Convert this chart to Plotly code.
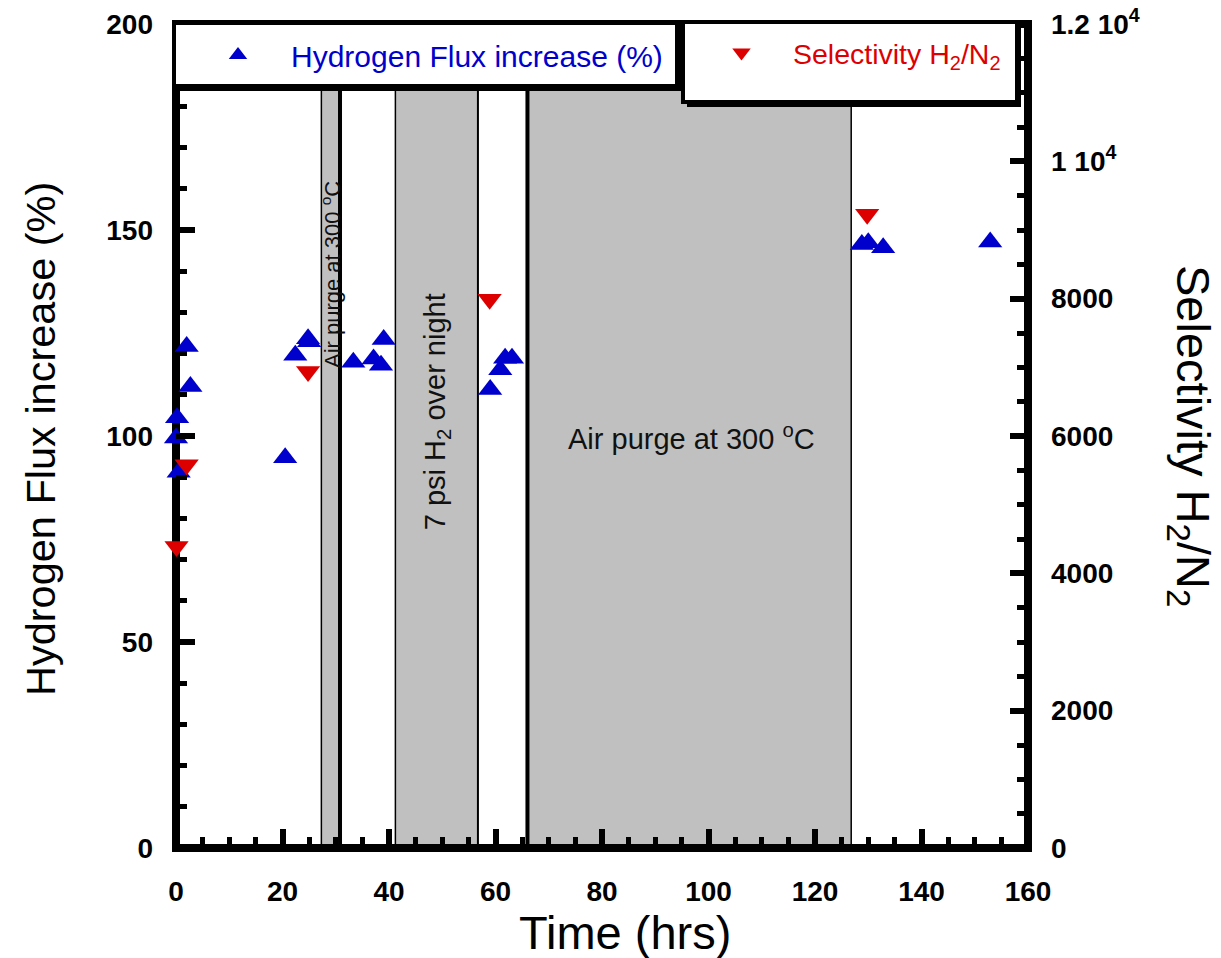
import plotly.graph_objects as go

# Hydrogen flux increase (%) over time (hrs)
flux_time = [0.5, 0.0, 0.2, 2.7, 2.0, 20.5, 22.4, 24.8, 25.0, 33.3, 37.1, 38.5, 39.0,
             59.0, 60.9, 61.8, 63.1, 128.8, 130.0, 132.8, 152.9]
flux_pct = [91.2, 99.5, 104.4, 112.0, 121.7, 94.7, 119.6, 123.6, 122.9, 117.9, 118.7, 117.2, 123.4,
            111.3, 116.1, 118.9, 118.9, 146.5, 146.9, 145.7, 147.1]

# H2/N2 selectivity over time (hrs)
sel_time = [0.1, 2.0, 24.8, 58.9, 129.8]
sel_ratio = [4390, 5580, 6940, 7990, 9230]

# treatment periods (hrs)
band_start = [27.3, 41.2, 66.0]
band_end = [30.8, 56.7, 126.8]

# treatment labels: text, x (hrs), y (%)
band_labels = ["Air purge at 300 <sup>o</sup>C", "7 psi H<sub>2</sub> over night", "Air purge at 300 <sup>o</sup>C"]
label_x = [29.1, 49.0, 96.9]
label_y = [139.3, 106.0, 99.8]

x_ticks = [0, 20, 40, 60, 80, 100, 120, 140, 160]
y_ticks = [0, 50, 100, 150, 200]
y2_ticks = [0, 2000, 4000, 6000, 8000, 10000, 12000]
y2_ticktext = ["0", "2000", "4000", "6000", "8000", "1 10<sup>4</sup>", "1.2 10<sup>4</sup>"]

BLUE = "#0000cc"
RED = "#dd0000"
GRAY = "#c0c0c0"
FONT = "Liberation Sans, Arial, sans-serif"

# plot area in pixels
L, R, T, B = 176, 1028, 24, 848
W, H = R - L, B - T


def px(xp):
    return (xp - L) / W


def py(yp):
    return (B - yp) / H


fig = go.Figure()

fig.add_trace(go.Scatter(
    x=flux_time, y=flux_pct, mode="markers", name="Hydrogen Flux increase (%)",
    marker=dict(symbol="triangle-up", size=21, color=BLUE, line=dict(width=0)),
    cliponaxis=False, legend="legend",
))
fig.add_trace(go.Scatter(
    x=sel_time, y=sel_ratio, mode="markers", name="Selectivity H<sub>2</sub>/N<sub>2</sub>",
    marker=dict(symbol="triangle-down", size=21, color=RED, line=dict(width=0)),
    cliponaxis=False, yaxis="y2", legend="legend2",
))

shapes = []
# shaded treatment periods
for x0, x1 in zip(band_start, band_end):
    shapes.append(dict(type="rect", xref="x", yref="paper", x0=x0, x1=x1, y0=0, y1=1,
                       fillcolor=GRAY, line=dict(width=0), layer="below"))
# period boundaries
edge_widths = [(1.5, 4), (1.5, 2), (4, 1.5)]
for (x0, x1), (w0, w1) in zip(zip(band_start, band_end), edge_widths):
    for xv, wv in ((x0, w0), (x1, w1)):
        shapes.append(dict(type="line", xref="x", yref="paper", x0=xv, x1=xv, y0=0, y1=1,
                           line=dict(color="black", width=wv), layer="below"))
# heavy frame
shapes.append(dict(type="rect", xref="paper", yref="paper", x0=0, x1=1, y0=0, y1=1,
                   line=dict(color="black", width=8), fillcolor="rgba(0,0,0,0)", layer="below"))

# legend boxes with drop shadow
for (bx0, by0, bx1, by1) in [(174, 23, 677, 86), (683, 22, 1017, 102)]:
    shapes.append(dict(type="rect", xref="paper", yref="paper",
                       x0=px(bx0 + 4), x1=px(bx1 + 4), y0=py(by1 + 5), y1=py(by0 + 4),
                       fillcolor="black", line=dict(width=0), layer="above"))
    shapes.append(dict(type="rect", xref="paper", yref="paper",
                       x0=px(bx0), x1=px(bx1), y0=py(by1), y1=py(by0),
                       fillcolor="white", line=dict(color="black", width=4), layer="above"))

annotations = []
angles = [-90, -90, 0]
sizes = [22, 29, 29]
for txt, xv, yv, ang, fs in zip(band_labels, label_x, label_y, angles, sizes):
    annotations.append(dict(text=txt, x=xv, y=yv, xref="x", yref="y", showarrow=False,
                            textangle=ang, font=dict(family=FONT, size=fs, color="#111111"),
                            xanchor="center", yanchor="middle"))

annotations.append(dict(text="Time (hrs)", x=px(625), y=py(933), xref="paper", yref="paper",
                        showarrow=False, font=dict(family=FONT, size=47, color="black"),
                        xanchor="center", yanchor="middle"))
annotations.append(dict(text="Hydrogen Flux increase (%)", x=px(40), y=py(439), xref="paper", yref="paper",
                        showarrow=False, textangle=-90, font=dict(family=FONT, size=41.5, color="black"),
                        xanchor="center", yanchor="middle"))
annotations.append(dict(text="Selectivity H<sub>2</sub>/N<sub>2</sub>", x=px(1190), y=py(436),
                        xref="paper", yref="paper", showarrow=False, textangle=90,
                        font=dict(family=FONT, size=47, color="black"),
                        xanchor="center", yanchor="middle"))

tickfont = dict(family=FONT, size=28, color="black", weight="bold")

fig.update_layout(
    width=1221, height=958,
    margin=dict(l=L, r=1221 - R, t=T, b=958 - B, pad=0, autoexpand=False),
    paper_bgcolor="white", plot_bgcolor="white",
    showlegend=True,
    xaxis=dict(range=[0, 160], tickmode="array", tickvals=x_ticks, ticks="inside",
               ticklen=19, tickwidth=6, tickcolor="black",
               minor=dict(tickmode="linear", tick0=0, dtick=5, ticks="inside", ticklen=11,
                          tickwidth=5, tickcolor="black", showgrid=False),
               showgrid=False, zeroline=False, showline=False, tickfont=tickfont,
               ticklabelstandoff=24, automargin=False),
    yaxis=dict(range=[0, 200], tickmode="array", tickvals=y_ticks, ticks="inside",
               ticklen=19, tickwidth=6, tickcolor="black",
               minor=dict(tickmode="linear", tick0=0, dtick=10, ticks="inside", ticklen=11,
                          tickwidth=5, tickcolor="black", showgrid=False),
               showgrid=False, zeroline=False, showline=False, tickfont=tickfont,
               ticklabelstandoff=22, automargin=False),
    yaxis2=dict(range=[0, 12000], overlaying="y", side="right", tickmode="array",
                tickvals=y2_ticks, ticktext=y2_ticktext, ticks="inside",
                ticklen=18, tickwidth=6, tickcolor="black",
                minor=dict(tickmode="linear", tick0=0, dtick=500, ticks="inside", ticklen=11,
                           tickwidth=5, tickcolor="black", showgrid=False),
                showgrid=False, zeroline=False, showline=False, tickfont=tickfont,
                ticklabelstandoff=22, automargin=False),
    legend=dict(x=px(185), y=py(55), xanchor="left", yanchor="middle",
                bgcolor="rgba(0,0,0,0)", borderwidth=0, itemwidth=96,
                font=dict(family=FONT, size=30, color=BLUE)),
    legend2=dict(x=px(690), y=py(53), xanchor="left", yanchor="middle",
                 bgcolor="rgba(0,0,0,0)", borderwidth=0, itemwidth=93,
                 font=dict(family=FONT, size=28.5, color=RED)),
    shapes=shapes,
    annotations=annotations,
)

fig.write_html("out.html")
